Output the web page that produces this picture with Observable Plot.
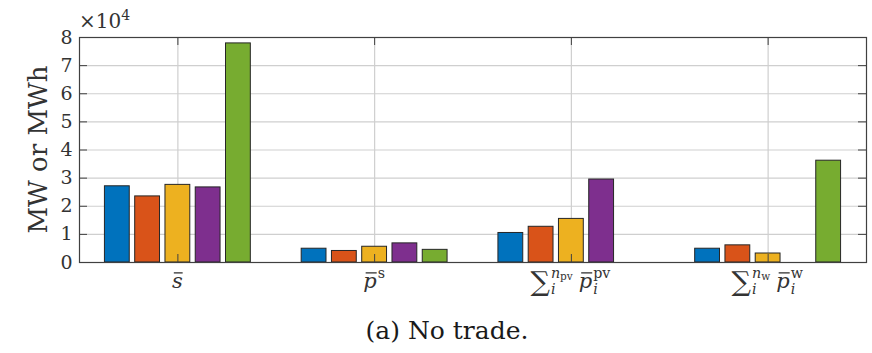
<!DOCTYPE html>
<html><head><meta charset="utf-8">
<script src="https://cdn.jsdelivr.net/npm/d3@7"></script>
<script src="https://cdn.jsdelivr.net/npm/@observablehq/plot@0.6"></script>
<style>
body{margin:0;background:#fff;}
#chart svg{display:block;}
#caption{width:850px;padding-left:22px;text-align:center;font-family:"DejaVu Serif";font-size:25px;line-height:30px;padding-top:11px;color:#1a1a1a;}
</style></head><body>
<div id="chart"></div>
<div id="caption"></div>
<script>
// ---- data ----
const categories = ["s_bar", "p_bar_s", "sum_p_pv", "sum_p_w"];
const seriesNames = ["Case 1", "Case 2", "Case 3", "Case 4", "Case 5"];
const seriesColors = ["#0072BD", "#D95319", "#EDB120", "#7E2F8E", "#77AC30"];
const valuesSBar   = [27100, 23500, 27600, 26700, 77900];
const valuesPBarS  = [4900, 4100, 5600, 6800, 4500];
const valuesSumPV  = [10500, 12700, 15500, 29500, 0];
const valuesSumW   = [4900, 6100, 3200, 0, 36200];
const yTicks = [0, 10000, 20000, 30000, 40000, 50000, 60000, 70000, 80000];
const yTickLabels = ["0", "1", "2", "3", "4", "5", "6", "7", "8"];
const xTicks = [1, 2, 3, 4];
const yLabel = "MW or MWh";
const exponentBase = "×10";
const exponentPower = "4";
const captionText = "(a) No trade.";

// ---- table ----
const allValues = [valuesSBar, valuesPBarS, valuesSumPV, valuesSumW];
const nS = seriesNames.length;
const groupWidth = nS / (nS + 1.5);
const slot = groupWidth / nS;
const barFrac = 0.82;
const rows = [];
categories.forEach((c, g) => {
  allValues[g].forEach((v, s) => {
    if (v <= 0) return;
    const left = xTicks[g] - groupWidth / 2 + s * slot + slot * (1 - barFrac) / 2;
    rows.push({category: c, series: seriesNames[s], value: v, x1: left, x2: left + slot * barFrac});
  });
});

const W = 872, H = 305, mL = 79, mR = 6, mT = 37, mB = 43;
const tickLenX = 8 / ((W - mL - mR) / 4);
const tickLenY = 8 / ((H - mT - mB) / 80000);
const inner = yTicks.slice(1, -1);

const plot = Plot.plot({
  width: W, height: H,
  marginLeft: mL, marginRight: mR, marginTop: mT, marginBottom: mB,
  x: {domain: [0.5, 4.5], axis: null},
  y: {domain: [0, 80000], ticks: yTicks, tickFormat: d => yTickLabels[yTicks.indexOf(d)], tickSize: 0, tickPadding: 7, label: null},
  color: {domain: seriesNames, range: seriesColors},
  style: {fontFamily: "DejaVu Serif", fontSize: "19px", color: "#333", background: "transparent"},
  marks: [
    Plot.ruleY(inner, {stroke: "#cfcfcf", strokeWidth: 1.2}),
    Plot.ruleX(xTicks, {stroke: "#cfcfcf", strokeWidth: 1.2}),
    Plot.rectY(rows, {x1: "x1", x2: "x2", y1: 0, y2: "value", fill: "series", stroke: "#262626", strokeWidth: 1}),
    Plot.ruleY(inner, {x1: 0.5, x2: 0.5 + tickLenX, stroke: "#404040"}),
    Plot.ruleY(inner, {x1: 4.5 - tickLenX, x2: 4.5, stroke: "#404040"}),
    Plot.ruleX(xTicks, {y1: 0, y2: tickLenY, stroke: "#404040"}),
    Plot.ruleX(xTicks, {y1: 80000 - tickLenY, y2: 80000, stroke: "#404040"}),
    Plot.frame({stroke: "#404040", strokeWidth: 1.2})
  ]
});
document.getElementById("chart").appendChild(plot);
document.getElementById("caption").textContent = captionText;

const svg = d3.select(plot);
const xs = plot.scale("x"), ys = plot.scale("y");

// y label
svg.append("text")
  .attr("transform", `translate(47,${(ys.apply(0) + ys.apply(80000)) / 2}) rotate(-90)`)
  .attr("text-anchor", "middle").attr("font-family", "DejaVu Serif").attr("font-size", 26)
  .attr("fill", "#333").text(yLabel);

// exponent
const ex = svg.append("text").attr("x", 79).attr("y", 28).attr("text-anchor", "start")
  .attr("font-family", "DejaVu Serif").attr("fill", "#333");
ex.append("tspan").attr("font-size", 20).text(exponentBase);
ex.append("tspan").attr("font-size", 14).attr("dy", -8).text(exponentPower);

// math tick labels
const F = 21;
function mathLabel(cx, baseline, atoms) {
  const g = svg.append("g").attr("fill", "#333").attr("font-family", "DejaVu Serif").attr("text-anchor", "start");
  let x = 0;
  const put = (t, px, py, size, it) => {
    const el = g.append("text").attr("x", px).attr("y", py).attr("font-size", size)
      .attr("text-anchor", "start").attr("font-style", it ? "italic" : "normal").text(t);
    return el.node().getComputedTextLength();
  };
  atoms.forEach(a => {
    const size = a.big ? F * 1.3 : F;
    const by = a.big ? 3 : 0;
    const w = put(a.base, x, by, size, a.it);
    if (a.bar) {
      g.append("line").attr("x1", x + 0.18 * w).attr("x2", x + 1.0 * w)
        .attr("y1", -0.72 * F).attr("y2", -0.72 * F).attr("stroke", "#333").attr("stroke-width", 1.3);
    }
    const sx = x + w + 1;
    let supW = 0, subW = 0;
    if (a.sup) {
      let xx = sx;
      a.sup.forEach(r => {
        const s = r.small ? F * 0.5 : F * 0.68;
        const y = r.small ? -0.4 * F : -0.5 * F;
        xx += put(r.t, xx, y, s, r.it);
      });
      supW = xx - sx;
    }
    if (a.sub) {
      let xx = sx;
      a.sub.forEach(r => { xx += put(r.t, xx, 0.28 * F, F * 0.68, r.it); });
      subW = xx - sx;
    }
    x = sx + Math.max(supW, subW) + (a.gap || 0);
  });
  const bb = g.node().getBBox();
  g.attr("transform", `translate(${cx - (bb.x + bb.width / 2)},${baseline})`);
}
const baseY = 288;
mathLabel(xs.apply(xTicks[0]), baseY, [{base: "s", it: true, bar: true}]);
mathLabel(xs.apply(xTicks[1]), baseY, [{base: "p", it: true, bar: true, sup: [{t: "s"}]}]);
mathLabel(xs.apply(xTicks[2]), baseY, [
  {base: "∑", big: true, sup: [{t: "n", it: true}, {t: "pv", small: true}], sub: [{t: "i", it: true}], gap: 6},
  {base: "p", it: true, bar: true, sup: [{t: "pv"}], sub: [{t: "i", it: true}]}
]);
mathLabel(xs.apply(xTicks[3]), baseY, [
  {base: "∑", big: true, sup: [{t: "n", it: true}, {t: "w", small: true}], sub: [{t: "i", it: true}], gap: 6},
  {base: "p", it: true, bar: true, sup: [{t: "w"}], sub: [{t: "i", it: true}]}
]);
</script>
</body></html>
